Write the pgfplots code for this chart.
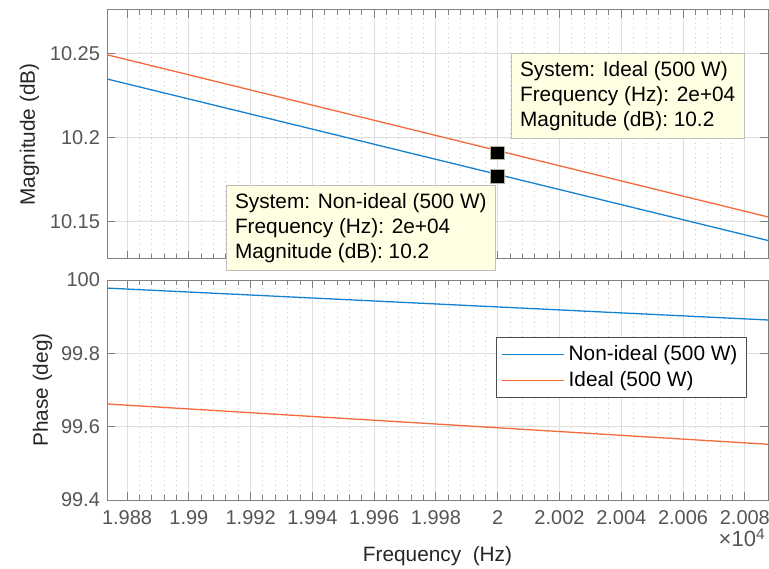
\documentclass[border=0pt]{standalone}
\usepackage{pgfplots}
\pgfplotsset{compat=1.18}
\usepackage{fontspec}
\setmainfont{Liberation Sans}

\definecolor{mblue}{RGB}{20,130,210}
\definecolor{morange}{RGB}{245,105,60}
\definecolor{tickgray}{RGB}{85,85,85}
\definecolor{labgray}{RGB}{38,38,38}
\definecolor{tipfill}{RGB}{255,255,228}

\newcommand{\fsz}{\fontsize{10.4}{12.5}\selectfont}
\newcommand{\tsz}{\fontsize{10}{12}\selectfont}

\pgfplotsset{
  bode/.style={
    scale only axis,
    width=330.5pt,
    xmin=1.98735, xmax=2.00875,
    xtick={1.988,1.99,1.992,1.994,1.996,1.998,2,2.002,2.004,2.006,2.008},
    minor x tick num=4,
    xmajorgrids=true, ymajorgrids=true, xminorgrids=true,
    major grid style={draw=black!13, line width=0.5pt},
    minor grid style={draw=black!22, dotted, line width=0.5pt},
    tick align=inside,
    major tick length=4pt, minor tick length=2.5pt,
    tick style={draw=black!50, line width=0.5pt},
    axis line style={draw=black!50, line width=0.5pt},
    tick label style={font=\tsz, text=tickgray},
    label style={font=\fsz, text=labgray},
    /pgf/number format/assume math mode=true,
    scaled ticks=false,
    xticklabel style={/pgf/number format/fixed, /pgf/number format/precision=3, yshift=-1.5pt},
    yticklabel style={/pgf/number format/fixed, /pgf/number format/precision=2},
  },
}

\begin{document}
\begin{tikzpicture}
\path[use as bounding box] (0,0) rectangle (384.5pt,284pt);

% magnitude
\begin{axis}[bode,
    at={(53.5pt,154.5pt)}, anchor=south west,
    height=124.5pt,
    ymin=10.128, ymax=10.276,
    ytick={10.15,10.2,10.25},
    xticklabels={},
    ylabel={Magnitude (dB)},
    ylabel shift=-1.5pt,
]
\addplot[color=morange, line width=0.65pt] coordinates {(1.98735,10.2494) (2.00875,10.153)};
\addplot[color=mblue, line width=0.65pt] coordinates {(1.98735,10.235) (2.00875,10.139)};
\addplot[only marks, mark=square*, mark size=3.4pt,
    mark options={fill=black, draw=tipfill!70!black, line width=0.5pt}]
    coordinates {(2,10.191) (2,10.177)};
\coordinate (tipIdeal) at (axis cs:2.00042,10.2504);
\coordinate (tipNon) at (axis cs:1.99119,10.172);
\end{axis}

% phase
\begin{axis}[bode,
    at={(53.5pt,34pt)}, anchor=south west,
    height=110pt,
    ymin=99.4, ymax=100,
    ytick={99.4,99.6,99.8,100},
    xlabel={Frequency\ \ (Hz)},
    xlabel style={yshift=-4pt},
    ylabel={Phase (deg)},
    ylabel shift=-2.5pt,
    legend cell align=left,
    legend style={at={(rel axis cs:0.968,0.741)}, anchor=north east,
      draw=black!70, fill=white, font=\fsz, text=black,
      inner xsep=2.5pt, inner ysep=2pt, row sep=0pt},
    legend image code/.code={\draw[#1] (0pt,0pt) -- (31pt,0pt);},
]
\addplot[color=mblue, draw=mblue, line width=0.65pt] coordinates {(1.98735,99.978) (2.00875,99.891)};
\addlegendentry{Non-ideal (500 W)}
\addplot[color=morange, draw=morange, line width=0.65pt] coordinates {(1.98735,99.662) (2.00875,99.552)};
\addlegendentry{Ideal (500 W)}
\coordinate (sclab) at (rel axis cs:1,0);
\end{axis}

\node[anchor=north east, font=\fontsize{11}{13}\selectfont, text=tickgray, inner sep=0pt]
  at ([xshift=-1pt,yshift=-14pt]sclab) {×10\textsuperscript{4}};

% data tips
\node[anchor=north west, draw=black!25, fill=tipfill, align=left, font=\fsz,
  text=black, inner xsep=4.5pt, inner ysep=4pt] at (tipIdeal)
  {System: Ideal (500 W)\\Frequency (Hz): 2e+04\\Magnitude (dB): 10.2};
\node[anchor=north west, draw=black!25, fill=tipfill, align=left, font=\fsz,
  text=black, inner xsep=4.5pt, inner ysep=4pt] at (tipNon)
  {System: Non-ideal (500 W)\\Frequency (Hz): 2e+04\\Magnitude (dB): 10.2};
\end{tikzpicture}
\end{document}
